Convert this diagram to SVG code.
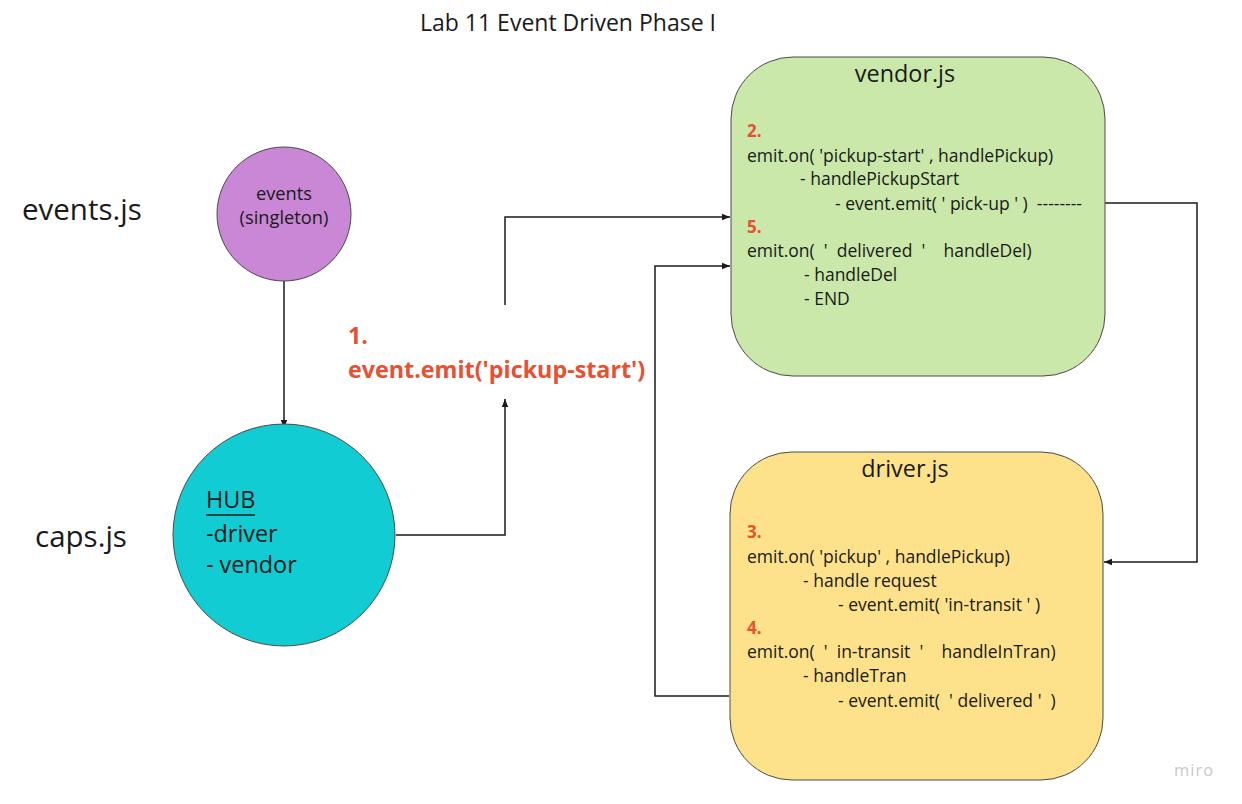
<svg xmlns="http://www.w3.org/2000/svg" width="1242" height="804" viewBox="0 0 1242 804">
<defs>
<style>
text{font-family:"Open Sans","Noto Sans","Liberation Sans",sans-serif;fill:#1a1a1a;white-space:pre}
.title{font-size:23px}
.side{font-size:29.5px}
.code{font-size:17.5px}
.num{font-size:17px;font-weight:bold;fill:#e8502f}
.big{font-size:23.3px;font-weight:bold;fill:#e8502f}
.hdr{font-size:23.4px}
.small{font-size:18.3px}
.conn{fill:none;stroke:#1a1a1a;stroke-width:1.5}
.node{stroke:#4a4a4a;stroke-width:1}
</style>
<marker id="arr" viewBox="0 0 10 10" refX="10" refY="5" markerWidth="8" markerHeight="8" markerUnits="userSpaceOnUse" orient="auto">
<path d="M0,1 L10,5 L0,9 Z" fill="#1a1a1a"/>
</marker>
</defs>
<rect width="1242" height="804" fill="#ffffff"/>
<text class="title" x="420" y="31">Lab 11 Event Driven Phase I</text>
<text class="side" x="22" y="220">events.js</text>
<text class="side" x="35" y="547">caps.js</text>

<g id="connectors">
<path class="conn" d="M284,281 L284,428" marker-end="url(#arr)"/>
<path class="conn" d="M396,535 L505,535 L505,399" marker-end="url(#arr)"/>
<path class="conn" d="M505,305 L505,217 L730,217" marker-end="url(#arr)"/>
<path class="conn" d="M1105,203 L1197,203 L1197,562 L1104,562" marker-end="url(#arr)"/>
<path class="conn" d="M729,696 L655,696 L655,266 L730,266" marker-end="url(#arr)"/>
</g>

<g id="events">
<circle class="node" cx="284" cy="214" r="67" fill="#c987d6"/>
<text class="small" x="284" y="200" text-anchor="middle">events</text>
<text class="small" x="284" y="224" text-anchor="middle">(singleton)</text>
</g>

<g id="hub">
<circle class="node" cx="284" cy="535" r="111" fill="#12ccd4"/>
<text class="hdr" x="206" y="508">HUB</text>
<line x1="206" y1="515" x2="255" y2="515" stroke="#1a1a1a" stroke-width="1.5"/>
<text class="hdr" x="206" y="542">-driver</text>
<text class="hdr" x="206" y="573">- vendor</text>
</g>

<g id="emit-label">
<text class="big" x="348" y="344">1.</text>
<text class="big" x="348" y="378">event.emit('pickup-start')</text>
</g>

<g id="vendor">
<rect class="node" x="731" y="57" width="374" height="319" rx="62" ry="62" fill="#c9e8a9"/>
<text class="hdr" x="905" y="82" text-anchor="middle">vendor.js</text>
<text class="num" x="747" y="137">2.</text>
<text class="code" x="747" y="162">emit.on( 'pickup-start' , handlePickup)</text>
<text class="code" x="800" y="185">- handlePickupStart</text>
<text class="code" x="835" y="210">- event.emit( ' pick-up ' )  --------</text>
<text class="num" x="747" y="233">5.</text>
<text class="code" x="747" y="257">emit.on(  '  delivered  '    handleDel)</text>
<text class="code" x="804" y="281">- handleDel</text>
<text class="code" x="804" y="305">- END</text>
</g>

<g id="driver">
<rect class="node" x="730" y="452" width="373" height="328" rx="62" ry="62" fill="#fde28b"/>
<text class="hdr" x="905" y="477" text-anchor="middle">driver.js</text>
<text class="num" x="747" y="538">3.</text>
<text class="code" x="747" y="563">emit.on( 'pickup' , handlePickup)</text>
<text class="code" x="803" y="587">- handle request</text>
<text class="code" x="838" y="611">- event.emit( 'in-transit ' )</text>
<text class="num" x="747" y="634">4.</text>
<text class="code" x="747" y="658">emit.on(  '  in-transit  '    handleInTran)</text>
<text class="code" x="803" y="682">- handleTran</text>
<text class="code" x="838" y="707">- event.emit(  ' delivered '  )</text>
</g>

<text x="1174" y="776" style="font-size:16.5px;fill:#c8c8cc;letter-spacing:1px">miro</text>
</svg>
